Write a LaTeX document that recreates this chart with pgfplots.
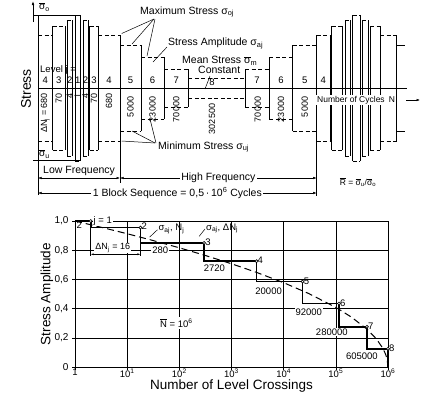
\documentclass[border=0pt]{standalone}
\usepackage{fontspec}
\setmainfont{Liberation Sans}
\usepackage{pgfplots}
\pgfplotsset{compat=1.18}
\usetikzlibrary{arrows.meta}
\newcommand{\fs}[1]{\fontsize{#1}{#1}\selectfont}
\newcommand{\ob}[1]{$\overline{\mbox{#1}}$}
\begin{document}
\begin{tikzpicture}[x=1pt,y=1pt]
\useasboundingbox (0,0) rectangle (422,-392);
% ---------------- top schematic ----------------
\begin{axis}[at={(0pt,-200pt)}, anchor=south west, scale only axis,
  width=422pt, height=200pt, xmin=0, xmax=422, ymin=-112, ymax=88,
  axis lines=none, clip=false, unbounded coords=jump]
% dashed block tops / bottoms (x in px, y = stress relative to mean)
\addplot[black, line width=0.9pt, dash pattern=on 4pt off 2.5pt] coordinates {
(38,53)(52.7,53) (0,nan) (38,-53)(52.7,-53) (0,nan)
(52.7,62)(65,62) (0,nan) (52.7,-62)(65,-62) (0,nan)
(67,68)(72.7,68) (0,nan) (67,-68)(72.7,-68) (0,nan)
(75,73)(80.7,73) (0,nan) (75,-73)(80.7,-73) (0,nan)
(83,68)(88,68) (0,nan) (83,-68)(88,-68) (0,nan)
(89.5,62)(98.3,62) (0,nan) (89.5,-62)(98.3,-62) (0,nan)
(98.3,53)(120,53) (0,nan) (98.3,-53)(120,-53) (0,nan)
(120,43)(141,43) (0,nan) (120,-43)(141,-43) (0,nan)
(141,31)(164.3,31) (0,nan) (141,-31)(164.3,-31) (0,nan)
(164.3,19)(188.3,19) (0,nan) (164.3,-19)(188.3,-19) (0,nan)
(188.3,10)(245,10) (0,nan) (188.3,-10)(245,-10) (0,nan)
(245,19)(269.3,19) (0,nan) (245,-19)(269.3,-19) (0,nan)
(269.3,31)(292.7,31) (0,nan) (269.3,-31)(292.7,-31) (0,nan)
(292.7,43)(316.7,43) (0,nan) (292.7,-43)(316.7,-43) (0,nan)
(316.7,53)(330,53) (0,nan) (316.7,-53)(330,-53) (0,nan)
(331.7,62)(342.3,62) (0,nan) (331.7,-62)(342.3,-62) (0,nan)
(345,68)(350,68) (0,nan) (345,-68)(350,-68) (0,nan)
(352.7,73)(360,73) (0,nan) (352.7,-73)(360,-73) (0,nan)
(362,68)(368.3,68) (0,nan) (362,-68)(368.3,-68) (0,nan)
(370,62)(380,62) (0,nan) (370,-62)(380,-62) (0,nan)
(380,53)(396.7,53) (0,nan) (380,-53)(396.7,-53)
};
% solid block edges
\addplot[black, line width=0.9pt] coordinates {
(52.7,53)(52.7,-53) (0,nan)
(52.7,62)(52.7,-62) (0,nan) (65,62)(65,-62) (0,nan)
(67,68)(67,-68) (0,nan) (72.7,68)(72.7,-68) (0,nan)
(75,73)(75,-73) (0,nan) (80.7,73)(80.7,-73) (0,nan)
(83,68)(83,-68) (0,nan) (88,68)(88,-68) (0,nan)
(89.5,62)(89.5,-62) (0,nan) (98.3,62)(98.3,-62) (0,nan)
(120,53)(120,-53) (0,nan)
(141,43)(141,-43) (0,nan)
(164.3,31)(164.3,-31) (0,nan)
(188.3,19)(188.3,-19) (0,nan)
(245,19)(245,-19) (0,nan)
(269.3,31)(269.3,-31) (0,nan)
(292.7,43)(292.7,-43) (0,nan)
(316.7,53)(316.7,-53) (0,nan)
(330,53)(330,-53) (0,nan)
(331.7,62)(331.7,-62) (0,nan) (342.3,62)(342.3,-62) (0,nan)
(345,68)(345,-68) (0,nan) (350,68)(350,-68) (0,nan)
(352.7,73)(352.7,-73) (0,nan) (360,73)(360,-73) (0,nan)
(362,68)(362,-68) (0,nan) (368.3,68)(368.3,-68) (0,nan)
(370,62)(370,-62) (0,nan) (380,62)(380,-62) (0,nan)
(396.7,53)(396.7,-53) (0,nan)
(396.7,43)(405,43) (0,nan) (396.7,-43)(405,-43)
};
% mean line
\addplot[black, line width=0.7pt] coordinates {(38,0)(407,0)};
% stress axis and reference lines
\draw[line width=0.7pt] (axis cs:38,-107) -- (axis cs:38,73);
\draw[line width=0.6pt, -{Latex[length=4pt,width=2.5pt]}] (axis cs:33,66) -- (axis cs:33,87);
\draw[line width=0.5pt] (axis cs:33,73) -- (axis cs:80,73);
\draw[line width=0.5pt] (axis cs:33,-72) -- (axis cs:80,-72);
\node[font=\fs{10}, anchor=west, inner sep=0pt] at (axis cs:39,81) {\ob{σ}\textsubscript{o}};
\node[font=\fs{10}, anchor=west, inner sep=0pt] at (axis cs:39,-66) {\ob{σ}\textsubscript{u}};
\node[font=\fs{14}, rotate=90] at (axis cs:26,-1) {Stress};
% level numbers
\begin{scope}[every node/.style={font=\fs{9.5}, inner sep=0pt}]
\node at (axis cs:45.3,8) {4};
\node at (axis cs:58.8,8) {3};
\node at (axis cs:69.8,8) {2};
\node at (axis cs:77.8,8) {1};
\node at (axis cs:85.5,8) {2};
\node at (axis cs:93.9,8) {3};
\node at (axis cs:109.1,8) {4};
\node at (axis cs:130.5,8) {5};
\node at (axis cs:152.6,8) {6};
\node at (axis cs:176.3,8) {7};
\node at (axis cs:212,6) {8};
\node at (axis cs:257,8) {7};
\node at (axis cs:281,8) {6};
\node at (axis cs:304.7,8) {5};
\node at (axis cs:323.3,8) {4};
\end{scope}
\node[font=\fs{9.5}, anchor=west, inner sep=0pt] at (axis cs:40,18) {Level j =};
% cycle counts
\begin{scope}[every node/.style={font=\fs{9}, rotate=90, anchor=east, inner sep=0pt}]
\node at (axis cs:45.3,-5) {ΔN\textsubscript{j} = 680};
\node at (axis cs:58.8,-5) {70};
\node at (axis cs:69.8,-5) {4};
\node at (axis cs:77.8,-5) {1};
\node at (axis cs:85.5,-5) {4};
\node at (axis cs:93.9,-5) {70};
\node at (axis cs:109.1,-5) {680};
\node at (axis cs:130.5,-8) {5\,000};
\node at (axis cs:152.6,-8) {23\,000};
\node at (axis cs:176.3,-8) {70\,000};
\node at (axis cs:212,-15) {302\,500};
\node at (axis cs:257.7,-8) {70\,000};
\node at (axis cs:281,-8) {23\,000};
\node at (axis cs:304.7,-8) {5\,000};
\end{scope}
% annotations
\node[font=\fs{10.5}, anchor=west, inner sep=0pt] at (axis cs:140,76) {Maximum Stress σ\textsubscript{oj}};
\draw[line width=0.5pt] (axis cs:154,69) -- (axis cs:121.7,54.5);
\draw[line width=0.5pt] (axis cs:154,69) -- (axis cs:132,44);
\draw[line width=0.5pt] (axis cs:155,69) -- (axis cs:147,32);
\node[font=\fs{10.5}, anchor=west, inner sep=0pt] at (axis cs:168,44.5) {Stress Amplitude σ\textsubscript{aj}};
\draw[line width=0.5pt] (axis cs:167,41) -- (axis cs:153,26);
\node[font=\fs{10.5}, anchor=west, inner sep=0pt] at (axis cs:182,27) {Mean Stress \ob{σ}\textsubscript{m}};
\node[font=\fs{10.5}, anchor=west, inner sep=0pt] at (axis cs:198,18) {Constant};
\draw[line width=0.5pt] (axis cs:210,12) -- (axis cs:205,-1);
\node[font=\fs{10.5}, anchor=west, inner sep=0pt] at (axis cs:158,-59) {Minimum Stress σ\textsubscript{uj}};
\draw[line width=0.5pt] (axis cs:155,-55) -- (axis cs:121.7,-53);
\draw[line width=0.5pt] (axis cs:155,-55) -- (axis cs:132,-43);
\draw[line width=0.5pt] (axis cs:156,-55) -- (axis cs:150,-31);
\node[font=\fs{8.5}, anchor=west, fill=white, inner sep=1pt] at (axis cs:316,-12) {Number of Cycles\enspace N};
\draw[line width=0.5pt, -{Latex[length=3.5pt,width=2.5pt]}] (axis cs:406,-12) -- (axis cs:420,-12);
% frequency / block arrows
\draw[line width=0.6pt] (axis cs:120,-53) -- (axis cs:120,-95);
\draw[line width=0.6pt] (axis cs:316.7,-53) -- (axis cs:316.7,-108);
\node[font=\fs{10.5}, anchor=west, inner sep=0pt] at (axis cs:43,-83) {Low Frequency};
\draw[line width=0.5pt, {Latex[length=3.5pt,width=2.5pt]}-{Latex[length=3.5pt,width=2.5pt]}] (axis cs:38,-90) -- (axis cs:120,-90);
\draw[line width=0.5pt, {Latex[length=3.5pt,width=2.5pt]}-{Latex[length=3.5pt,width=2.5pt]}] (axis cs:120,-90) -- (axis cs:316.7,-90)
  node[midway, fill=white, font=\fs{10.5}, inner sep=1.5pt] {High Frequency};
\draw[line width=0.5pt, {Latex[length=3.5pt,width=2.5pt]}-{Latex[length=3.5pt,width=2.5pt]}] (axis cs:38,-105) -- (axis cs:316.7,-105)
  node[midway, fill=white, font=\fs{10.5}, inner sep=1.5pt] {1 Block Sequence = 0,5\,·\,10\textsuperscript{6} Cycles};
\node[font=\fs{8.5}] at (axis cs:358,-94) {\ob{R} = \ob{σ}\textsubscript{u}/\ob{σ}\textsubscript{o}};
\end{axis}
% ---------------- bottom plot ----------------
\begin{axis}[at={(75pt,-367pt)}, anchor=south west, scale only axis,
  width=313pt, height=146pt,
  xmode=log, xmin=1, xmax=1e6, ymin=0, ymax=1,
  xtick={1,10,100,1000,10000,100000,1000000},
  xticklabels={1,10\textsuperscript{1},10\textsuperscript{2},10\textsuperscript{3},10\textsuperscript{4},10\textsuperscript{5},10\textsuperscript{6}},
  ytick={0,0.2,0.4,0.6,0.8,1},
  yticklabels={0,{0,2},{0,4},{0,6},{0,8},{1,0}},
  minor tick style={draw=none},
  grid=major, major grid style={black, line width=0.5pt},
  axis line style={line width=0.9pt},
  tick align=outside, major tick length=3pt,
  xtick pos=bottom, ytick pos=left,
  tick style={black, line width=0.5pt},
  ticklabel style={font=\fs{10}},
  xticklabel style={font=\fs{9.5}, inner sep=1pt, yshift=2pt},
  xlabel={Number of Level Crossings}, ylabel={Stress Amplitude},
  xlabel style={font=\fs{13.5}, inner sep=0pt, at={(axis description cs:0.5,-0.152)}, anchor=base},
  ylabel style={font=\fs{13.5}, at={(axis description cs:-0.09,0.5)}, anchor=center},
  clip=false]
% continuous spectrum (dashed)
\addplot[black, line width=1pt, dash pattern=on 7pt off 4pt] coordinates {
(1,1) (3,0.9594) (10,0.9129) (30,0.8682) (100,0.8165) (300,0.7663)
(1000,0.7071) (3000,0.6484) (10000,0.5774) (30000,0.5038) (100000,0.4082)
(200000,0.3413) (400000,0.2575) (600000,0.1923) (800000,0.1271)
(900000,0.0873) (960000,0.0544) (1000000,0)};
% step spectrum
\addplot[black, line width=1.7pt] coordinates {
(1,1.0) (2,1.0) (2,0.955) (18,0.955) (18,0.85) (298,0.85) (298,0.725)
(3018,0.725) (3018,0.585) (23018,0.585) (23018,0.435) (115018,0.435)
(115018,0.275) (395018,0.275) (395018,0.125) (1000000,0.125) (1000000,0)};
\addplot[only marks, mark=*, mark size=1.5pt, mark options={fill=white, draw=black, line width=0.6pt}] coordinates {
(2,1.0) (18,0.955) (298,0.85) (3018,0.725) (23018,0.585) (115018,0.435) (395018,0.275) (1000000,0.125)};
% annotations
\node[font=\fs{9.5}, fill=white, inner sep=1pt] at (axis cs:3.4,1.0) {j = 1};
\node[font=\fs{9.5}, inner sep=0pt] at (axis cs:1.21,0.973) {2};
\node[font=\fs{9.5}, anchor=west, inner sep=1pt] at (axis cs:18,0.962) {2};
\node[font=\fs{9.5}, anchor=west, inner sep=1pt] at (axis cs:298,0.855) {3};
\node[font=\fs{9.5}, anchor=west, inner sep=1pt] at (axis cs:3018,0.73) {4};
\node[font=\fs{9.5}, anchor=west, inner sep=1pt] at (axis cs:23018,0.59) {5};
\node[font=\fs{9.5}, anchor=west, inner sep=1pt] at (axis cs:115018,0.44) {6};
\node[font=\fs{9.5}, anchor=west, inner sep=1pt] at (axis cs:395018,0.28) {7};
\node[font=\fs{9.5}, anchor=west, inner sep=1pt] at (axis cs:1000000,0.13) {8};
\draw[line width=0.5pt] (axis cs:27,0.89) -- (axis cs:38,0.94);
\node[font=\fs{9.5}, anchor=west, inner sep=1pt] at (axis cs:38,0.945) {σ\textsubscript{aj}, N\textsubscript{j}};
\draw[line width=0.5pt] (axis cs:240,0.895) -- (axis cs:310,0.945);
\node[font=\fs{9.5}, anchor=west, inner sep=1pt] at (axis cs:310,0.95) {σ\textsubscript{aj}, ΔN\textsubscript{j}};
\draw[line width=0.5pt] (axis cs:2,0.955) -- (axis cs:2,0.76);
\draw[line width=0.5pt] (axis cs:18,0.955) -- (axis cs:18,0.76);
\draw[line width=0.5pt, {Latex[length=3pt,width=2pt]}-{Latex[length=3pt,width=2pt]}] (axis cs:2,0.772) -- (axis cs:18,0.772);
\node[font=\fs{9}, fill=white, inner sep=1pt] at (axis cs:5.3,0.815) {ΔN\textsubscript{j} = 16};
\draw[line width=0.5pt] (axis cs:20,0.80) -- (axis cs:27,0.80);
\node[font=\fs{9.5}, fill=white, inner sep=1pt] at (axis cs:43,0.80) {280};
\node[font=\fs{9.5}, fill=white, inner sep=1pt] at (axis cs:471,0.678) {2720};
\node[font=\fs{9.5}, fill=white, inner sep=1pt] at (axis cs:5150,0.52) {20000};
\node[font=\fs{9.5}, fill=white, inner sep=1pt] at (axis cs:30250,0.377) {92000};
\node[font=\fs{9.5}, fill=white, inner sep=1pt] at (axis cs:83800,0.24) {280000};
\node[font=\fs{9.5}, fill=white, inner sep=1pt] at (axis cs:316000,0.075) {605000};
\node[font=\fs{9.5}, fill=white, inner sep=1.5pt] at (axis cs:87.5,0.301) {\ob{N} = 10\textsuperscript{6}};
\end{axis}
\end{tikzpicture}
\end{document}
